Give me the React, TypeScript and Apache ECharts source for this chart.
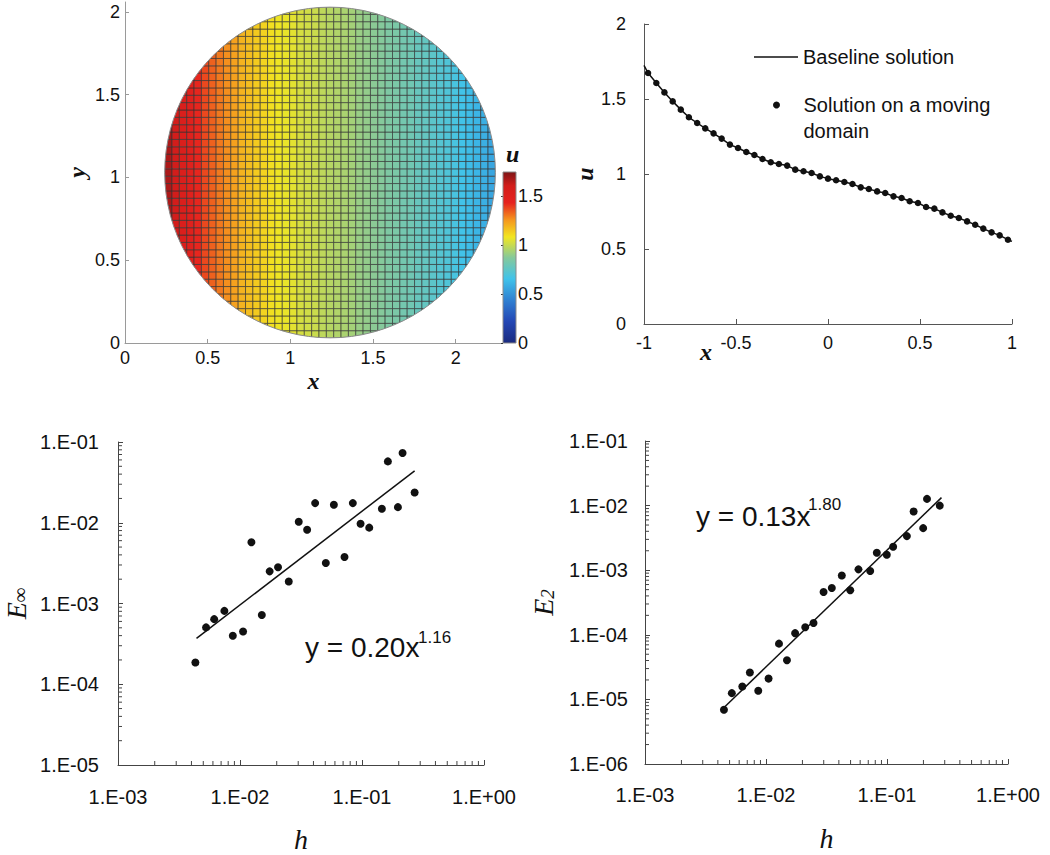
import React, { useEffect, useRef } from 'react';
import * as echarts from 'echarts';

// ---------- data ----------
// sample positions (cell centres of the 45-cell mesh) and u on the moving domain
const sampleX = [-0.978, -0.933, -0.889, -0.844, -0.8, -0.756, -0.711, -0.667, -0.622, -0.578, -0.533, -0.489, -0.444, -0.4, -0.356, -0.311, -0.267, -0.222, -0.178, -0.133, -0.089, -0.044, 0, 0.044, 0.089, 0.133, 0.178, 0.222, 0.267, 0.311, 0.356, 0.4, 0.444, 0.489, 0.533, 0.578, 0.622, 0.667, 0.711, 0.756, 0.8, 0.844, 0.889, 0.933, 0.978];
const movingU = [1.673, 1.607, 1.544, 1.484, 1.429, 1.378, 1.34, 1.304, 1.271, 1.236, 1.196, 1.173, 1.147, 1.127, 1.1, 1.078, 1.067, 1.056, 1.029, 1.018, 1.007, 0.984, 0.969, 0.958, 0.947, 0.933, 0.911, 0.9, 0.884, 0.873, 0.851, 0.84, 0.818, 0.807, 0.78, 0.769, 0.744, 0.722, 0.707, 0.684, 0.662, 0.636, 0.611, 0.591, 0.562];
const baselineX = [-1, ...sampleX, 1];
const baselineU = [1.724, ...movingU, 0.551];

// disk mesh
const diskCenter = [1.24, 1.03];
const diskRadius = 1.0;
const meshCells = 45;

// convergence data
const hInf = [0.00431, 0.00527, 0.00614, 0.00745, 0.00873, 0.0106, 0.0124, 0.0151, 0.0175, 0.0205, 0.0251, 0.0303, 0.0355, 0.0413, 0.0505, 0.0588, 0.0719, 0.0841, 0.0973, 0.1146, 0.1455, 0.163, 0.197, 0.215, 0.27];
const eInf = [1.86e-4, 5.06e-4, 6.4e-4, 8.1e-4, 3.98e-4, 4.5e-4, 5.74e-3, 7.2e-4, 2.5e-3, 2.81e-3, 1.87e-3, 1.03e-2, 8.2e-3, 1.75e-2, 3.18e-3, 1.67e-2, 3.77e-3, 1.75e-2, 9.7e-3, 8.7e-3, 1.49e-2, 5.75e-2, 1.56e-2, 7.3e-2, 2.37e-2];
const eInfFitH = [0.0044, 0.27];
const eInfFitE = [3.7e-4, 0.044];

const h2 = [0.00449, 0.00522, 0.00637, 0.00736, 0.00863, 0.0105, 0.0128, 0.0149, 0.0174, 0.0211, 0.0247, 0.0299, 0.035, 0.0423, 0.0497, 0.0581, 0.0726, 0.0824, 0.0996, 0.1124, 0.146, 0.166, 0.199, 0.214, 0.273];
const e2 = [6.9e-6, 1.25e-5, 1.58e-5, 2.61e-5, 1.36e-5, 2.1e-5, 7.3e-5, 4.04e-5, 1.06e-4, 1.31e-4, 1.52e-4, 4.59e-4, 5.3e-4, 8.3e-4, 4.88e-4, 1.03e-3, 9.7e-4, 1.86e-3, 1.73e-3, 2.31e-3, 3.37e-3, 8.1e-3, 4.48e-3, 1.27e-2, 1.0e-2];
const e2FitH = [0.0045, 0.282];
const e2FitE = [7.5e-6, 0.0133];

// tick values / labels
const diskTicks = [0, 0.5, 1, 1.5, 2];
const colorbarTicks = [0, 0.5, 1, 1.5];
const hTicks = [0.001, 0.01, 0.1, 1];
const hTickLabels = ['1.E-03', '1.E-02', '1.E-01', '1.E+00'];
const eInfTicks = [1e-5, 1e-4, 1e-3, 1e-2, 1e-1];
const eInfTickLabels = ['1.E-05', '1.E-04', '1.E-03', '1.E-02', '1.E-01'];
const e2Ticks = [1e-6, 1e-5, 1e-4, 1e-3, 1e-2, 1e-1];
const e2TickLabels = ['1.E-06', '1.E-05', '1.E-04', '1.E-03', '1.E-02', '1.E-01'];

const uMax = 1.75;
const jetStops: [number, string][] = [
  [0, '#1a2a7e'],
  [0.125, '#2346b4'],
  [0.25, '#2f80d2'],
  [0.375, '#40c3ea'],
  [0.5, '#86c99a'],
  [0.62, '#f2e620'],
  [0.72, '#f5961e'],
  [0.82, '#e6221e'],
  [0.92, '#d21d1b'],
  [1, '#7d1516'],
];

// ---------- helpers ----------
const FONT = "'Liberation Sans', Arial, sans-serif";
const SERIF = "'Liberation Serif', 'Times New Roman', serif";

function hexRgb(h: string) {
  const n = parseInt(h.slice(1), 16);
  return [(n >> 16) & 255, (n >> 8) & 255, n & 255];
}
function jet(u: number) {
  const t = Math.max(0, Math.min(1, u / uMax));
  for (let i = 1; i < jetStops.length; i++) {
    if (t <= jetStops[i][0]) {
      const [o0, c0] = jetStops[i - 1];
      const [o1, c1] = jetStops[i];
      const f = (t - o0) / (o1 - o0);
      const a = hexRgb(c0), b = hexRgb(c1);
      const c = a.map((v, k) => Math.round(v + (b[k] - v) * f));
      return `rgb(${c[0]},${c[1]},${c[2]})`;
    }
  }
  return jetStops[jetStops.length - 1][1];
}
function labelFor(ticks: number[], labels: string[]) {
  return (v: number) => {
    const i = ticks.findIndex((t) => Math.abs(Math.log10(t) - Math.log10(v)) < 1e-6);
    return i >= 0 ? labels[i] : '';
  };
}
function minorTicks(d0: number, d1: number) {
  const out: number[] = [];
  for (let d = d0; d < d1; d++) for (let k = 2; k <= 9; k++) out.push(k * Math.pow(10, d));
  return out;
}

// disk cells [x0, y0, u, boundary]
const cell = (2 * diskRadius) / meshCells;
const diskCells: number[][] = [];
for (let i = 0; i < meshCells; i++) {
  for (let j = 0; j < meshCells; j++) {
    const x0 = diskCenter[0] - diskRadius + i * cell;
    const y0 = diskCenter[1] - diskRadius + j * cell;
    const corners = [[x0, y0], [x0 + cell, y0], [x0, y0 + cell], [x0 + cell, y0 + cell]];
    const d = corners.map(([x, y]) => Math.hypot(x - diskCenter[0], y - diskCenter[1]));
    const minD = Math.hypot(
      Math.max(0, Math.abs(x0 + cell / 2 - diskCenter[0]) - cell / 2),
      Math.max(0, Math.abs(y0 + cell / 2 - diskCenter[1]) - cell / 2)
    );
    if (minD >= diskRadius) continue;
    const boundary = Math.max(...d) > diskRadius ? 1 : 0;
    diskCells.push([x0, y0, movingU[i], boundary]);
  }
}

const axisName = (size: number, bold: boolean) => ({
  fontFamily: SERIF,
  fontStyle: 'italic' as const,
  fontWeight: bold ? ('bold' as const) : ('normal' as const),
  fontSize: size,
  color: '#111',
});

export default function App() {
  const ref = useRef<HTMLDivElement>(null);
  useEffect(() => {
    if (!ref.current) return;
    const chart = echarts.init(ref.current, undefined, { renderer: 'svg' });

    const lin = (gridIndex: number, min: number, max: number, color: string, margin: number, extra: any = {}) => ({
      gridIndex,
      type: 'value',
      min,
      max,
      axisLine: { show: true, onZero: false, lineStyle: { color, width: 1 } },
      axisTick: { show: true, inside: true, length: 5, lineStyle: { color } },
      axisLabel: { color: '#111', fontSize: 18, fontFamily: FONT, margin },
      splitLine: { show: false },
      ...extra,
    });
    const logAx = (gridIndex: number, min: number, max: number, ticks: number[], labels: string[], margin: number, extra: any = {}) => ({
      gridIndex,
      type: 'log',
      logBase: 10,
      min,
      max,
      axisLine: { show: true, onZero: false, lineStyle: { color: '#444', width: 1 } },
      axisTick: { show: true, inside: true, length: 5, lineStyle: { color: '#444' }, customValues: ticks },
      axisLabel: { color: '#111', fontSize: 20, fontFamily: FONT, margin, customValues: ticks, formatter: labelFor(ticks, labels) },
      splitLine: { show: false },
      minorTick: { show: false },
      ...extra,
    });

    const xMinor = (xi: number, yi: number, vals: number[], yBase: number) => ({
      type: 'custom',
      xAxisIndex: xi,
      yAxisIndex: yi,
      silent: true,
      data: vals.map((v) => [v, yBase]),
      renderItem: (p: any, api: any) => {
        const pt = api.coord([api.value(0), api.value(1)]);
        return { type: 'line', shape: { x1: pt[0], y1: pt[1], x2: pt[0], y2: pt[1] - 4 }, style: { stroke: '#444', lineWidth: 1 } };
      },
    });
    const yMinor = (xi: number, yi: number, vals: number[], xBase: number) => ({
      type: 'custom',
      xAxisIndex: xi,
      yAxisIndex: yi,
      silent: true,
      data: vals.map((v) => [xBase, v]),
      renderItem: (p: any, api: any) => {
        const pt = api.coord([api.value(0), api.value(1)]);
        return { type: 'line', shape: { x1: pt[0], y1: pt[1], x2: pt[0] + 4, y2: pt[1] }, style: { stroke: '#444', lineWidth: 1 } };
      },
    });

    const option: any = {
      animation: false,
      backgroundColor: '#fff',
      textStyle: { fontFamily: FONT },
      grid: [
        { left: 125, top: 2, width: 377, height: 341, outerBoundsMode: 'none' },
        { left: 644, top: 24, width: 368, height: 300, outerBoundsMode: 'none' },
        { left: 118, top: 442, width: 366, height: 323, outerBoundsMode: 'none' },
        { left: 645, top: 441, width: 363, height: 323, outerBoundsMode: 'none' },
        { left: 503, top: 172, width: 13, height: 171, outerBoundsMode: 'none' },
      ],
      xAxis: [
        lin(0, 0, 2.28, '#9a9a9a', 6, {
          axisTick: { show: true, inside: true, length: 4, lineStyle: { color: '#9a9a9a' }, customValues: diskTicks },
          axisLabel: { color: '#111', fontSize: 18, fontFamily: FONT, margin: 6, customValues: diskTicks },
          name: 'x', nameLocation: 'middle', nameGap: 26, nameTextStyle: axisName(24, true),
        }),
        lin(1, -1, 1, '#555', 10, {
          interval: 0.5,
          name: 'x', nameLocation: 'middle', nameGap: 16, nameMoveOverlap: false,
          nameTextStyle: { ...axisName(24, true), padding: [0, 244, 0, 0] },
        }),
        logAx(2, 0.001, 1, hTicks, hTickLabels, 22, { name: 'h', nameLocation: 'middle', nameGap: 60, nameTextStyle: axisName(28, false) }),
        logAx(3, 0.001, 1, hTicks, hTickLabels, 21, { name: 'h', nameLocation: 'middle', nameGap: 60, nameTextStyle: axisName(28, false) }),
        { gridIndex: 4, type: 'value', min: 0, max: 1, show: false },
      ],
      yAxis: [
        lin(0, 0, 2.06, '#9a9a9a', 5, {
          axisTick: { show: true, inside: true, length: 4, lineStyle: { color: '#9a9a9a' }, customValues: diskTicks },
          axisLabel: { color: '#111', fontSize: 18, fontFamily: FONT, margin: 5, customValues: diskTicks },
          name: 'y', nameLocation: 'middle', nameGap: 36, nameTextStyle: axisName(24, true),
        }),
        lin(1, 0, 2, '#555', 18, {
          interval: 0.5,
          name: 'u', nameLocation: 'middle', nameGap: 40, nameTextStyle: axisName(24, true),
        }),
        logAx(2, 1e-5, 0.1, eInfTicks, eInfTickLabels, 19, {
          name: '{e|E}{s|∞}', nameLocation: 'middle', nameGap: 88,
          nameTextStyle: { ...axisName(28, false), rich: { e: axisName(28, false), s: { ...axisName(20, false), verticalAlign: 'bottom', padding: [8, 0, 0, 0] } } },
        }),
        logAx(3, 1e-6, 0.1, e2Ticks, e2TickLabels, 17, {
          name: '{e|E}{s|2}', nameLocation: 'middle', nameGap: 88,
          nameTextStyle: { ...axisName(28, false), rich: { e: axisName(28, false), s: { ...axisName(19, false), verticalAlign: 'bottom', padding: [8, 0, 0, 0] } } },
        }),
        {
          gridIndex: 4, type: 'value', min: 0, max: uMax, position: 'right',
          axisLine: { show: false },
          axisTick: { show: true, inside: true, length: 2, lineStyle: { color: '#333' }, customValues: colorbarTicks },
          axisLabel: { color: '#111', fontSize: 18, fontFamily: FONT, margin: 2, customValues: colorbarTicks },
          splitLine: { show: false },
          name: 'u', nameLocation: 'end', nameGap: 6,
          nameTextStyle: { ...axisName(24, true), align: 'left', padding: [0, 0, 0, 3] },
        },
      ],
      legend: [
        {
          data: [{ name: 'Baseline solution', icon: 'rect' }], left: 754, top: 47, orient: 'vertical', padding: 0,
          itemWidth: 44, itemHeight: 1.5, selectedMode: false,
          textStyle: { fontSize: 20, fontFamily: FONT, color: '#111' },
        },
        {
          data: ['Solution on a moving domain'], left: 773, top: 66, orient: 'vertical', padding: 0,
          itemWidth: 44, itemHeight: 7, selectedMode: false,
          formatter: () => '\nSolution on a moving\ndomain',
          textStyle: { fontSize: 20, fontFamily: FONT, color: '#111', lineHeight: 26 },
        },
      ],
      graphic: [
        { type: 'text', left: 305, top: 633, style: { text: 'y = 0.20x', font: `28px ${FONT}`, fill: '#111' } },
        { type: 'text', left: 418, top: 629, style: { text: '1.16', font: `17px ${FONT}`, fill: '#111' } },
        { type: 'text', left: 696, top: 502, style: { text: 'y = 0.13x', font: `28px ${FONT}`, fill: '#111' } },
        { type: 'text', left: 808, top: 496, style: { text: '1.80', font: `17px ${FONT}`, fill: '#111' } },
      ],
      series: [
        {
          type: 'custom',
          name: 'disk',
          xAxisIndex: 0,
          yAxisIndex: 0,
          silent: true,
          progressive: 0,
          data: diskCells,
          renderItem: (p: any, api: any) => {
            const x0 = api.value(0), y0 = api.value(1), u = api.value(2), b = api.value(3);
            const p1 = api.coord([x0, y0 + cell]);
            const p2 = api.coord([x0 + cell, y0]);
            const el: any = {
              type: 'rect',
              shape: { x: p1[0], y: p1[1], width: p2[0] - p1[0], height: p2[1] - p1[1] },
              style: { fill: jet(u), stroke: 'rgba(50,50,50,0.8)', lineWidth: 0.8 },
            };
            if (b) {
              const c = api.coord(diskCenter);
              const r = api.size([diskRadius, 0])[0];
              el.clipPath = { type: 'circle', shape: { cx: c[0], cy: c[1], r } };
            }
            return el;
          },
        },
        {
          type: 'custom',
          name: 'disk outline',
          xAxisIndex: 0,
          yAxisIndex: 0,
          silent: true,
          data: [[diskCenter[0], diskCenter[1], diskRadius]],
          renderItem: (p: any, api: any) => {
            const c = api.coord([api.value(0), api.value(1)]);
            const r = api.size([api.value(2), 0])[0];
            return { type: 'circle', shape: { cx: c[0], cy: c[1], r }, style: { fill: 'none', stroke: '#8a8a8a', lineWidth: 1 } };
          },
        },
        {
          type: 'custom',
          name: 'colorbar',
          xAxisIndex: 4,
          yAxisIndex: 4,
          silent: true,
          data: [[0, 0, 1, uMax]],
          renderItem: (p: any, api: any) => {
            const a = api.coord([api.value(0), api.value(3)]);
            const b = api.coord([api.value(2), api.value(1)]);
            return {
              type: 'rect',
              shape: { x: a[0], y: a[1], width: b[0] - a[0], height: b[1] - a[1] },
              style: {
                fill: { type: 'linear', x: 0, y: 1, x2: 0, y2: 0, colorStops: jetStops.map(([o, c]) => ({ offset: o, color: c })) },
                stroke: '#8a8a8a',
                lineWidth: 1,
              },
            };
          },
        },
        {
          type: 'line',
          name: 'Baseline solution',
          xAxisIndex: 1,
          yAxisIndex: 1,
          data: baselineX.map((x, i) => [x, baselineU[i]]),
          symbol: 'none',
          lineStyle: { color: '#111', width: 1.5 },
          itemStyle: { color: '#111' },
          z: 2,
        },
        {
          type: 'scatter',
          name: 'Solution on a moving domain',
          xAxisIndex: 1,
          yAxisIndex: 1,
          data: sampleX.map((x, i) => [x, movingU[i]]),
          symbol: 'circle',
          symbolSize: 6.5,
          itemStyle: { color: '#111', opacity: 1 },
          z: 3,
        },
        {
          type: 'scatter',
          name: 'E_inf',
          xAxisIndex: 2,
          yAxisIndex: 2,
          data: hInf.map((h, i) => [h, eInf[i]]),
          symbolSize: 8,
          itemStyle: { color: '#111', opacity: 1 },
        },
        {
          type: 'line',
          name: 'E_inf fit',
          xAxisIndex: 2,
          yAxisIndex: 2,
          data: eInfFitH.map((h, i) => [h, eInfFitE[i]]),
          symbol: 'none',
          lineStyle: { color: '#111', width: 1.5 },
        },
        {
          type: 'scatter',
          name: 'E_2',
          xAxisIndex: 3,
          yAxisIndex: 3,
          data: h2.map((h, i) => [h, e2[i]]),
          symbolSize: 8,
          itemStyle: { color: '#111', opacity: 1 },
        },
        {
          type: 'line',
          name: 'E_2 fit',
          xAxisIndex: 3,
          yAxisIndex: 3,
          data: e2FitH.map((h, i) => [h, e2FitE[i]]),
          symbol: 'none',
          lineStyle: { color: '#111', width: 1.5 },
        },
        xMinor(2, 2, minorTicks(-3, 0), 1e-5),
        yMinor(2, 2, minorTicks(-5, -1), 0.001),
        xMinor(3, 3, minorTicks(-3, 0), 1e-6),
        yMinor(3, 3, minorTicks(-6, -1), 0.001),
      ],
    };
    chart.setOption(option);
    return () => chart.dispose();
  }, []);
  return <div ref={ref} style={{ position: 'fixed', left: 0, top: 0, width: 1050, height: 855, background: '#fff' }} />;
}
